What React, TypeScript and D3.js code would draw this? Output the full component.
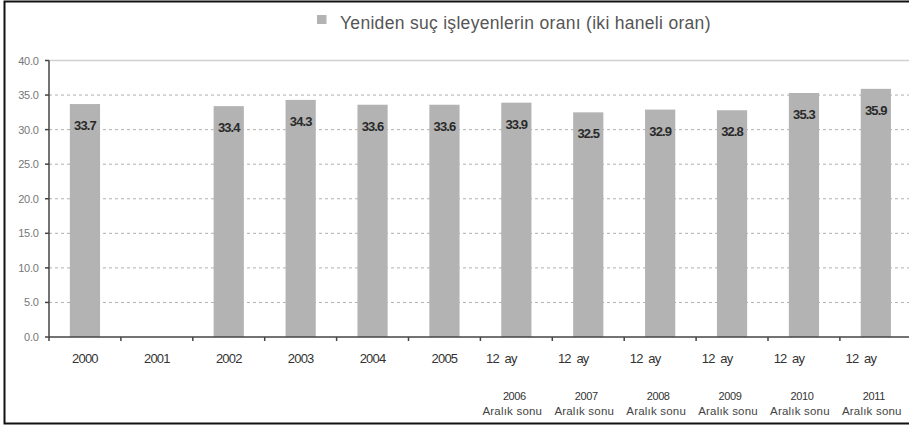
import React from "react";
import * as d3 from "d3";

const categories = ["2000", "2001", "2002", "2003", "2004", "2005", "2006", "2007", "2008", "2009", "2010", "2011"];
const values: (number | null)[] = [33.7, null, 33.4, 34.3, 33.6, 33.6, 33.9, 32.5, 32.9, 32.8, 35.3, 35.9];
const firstRowLabels = ["2000", "2001", "2002", "2003", "2004", "2005", "12  ay", "12  ay", "12  ay", "12  ay", "12  ay", "12  ay"];
const secondRowYears = ["", "", "", "", "", "", "2006", "2007", "2008", "2009", "2010", "2011"];
const secondRowNote = ["", "", "", "", "", "", "Aralık sonu", "Aralık sonu", "Aralık sonu", "Aralık sonu", "Aralık sonu", "Aralık sonu"];
const yTicks = [0, 5, 10, 15, 20, 25, 30, 35, 40];
const legendLabel = "Yeniden suç işleyenlerin oranı (iki haneli oran)";

const W = 909;
const H = 427;
const font = "'Liberation Sans', Arial, sans-serif";

export default function App() {
  const x0 = 49;
  const x = d3
    .scaleBand<string>()
    .domain(categories)
    .range([x0, x0 + 12 * 71.9])
    .paddingInner(0.58)
    .paddingOuter(0.29);
  const y = d3.scaleLinear().domain([0, 40]).range([337, 60.5]);
  const step = x.step();
  const boundaries = d3.range(categories.length + 1).map((i) => x0 + i * step);

  return (
    <div style={{ position: "absolute", left: 0, top: 0 }}>
      <svg width={W} height={H} style={{ display: "block", background: "#fff" }}>
        {/* frame */}
        <path d={`M${W},1.5 H4.5 V423.5 H${W}`} fill="none" stroke="#111" strokeWidth={2} />

        {/* legend */}
        <rect x={317} y={15} width={9.5} height={9} fill="#b3b3b3" />
        <text x={340} y={29} fontFamily={font} fontSize={17.5} letterSpacing={0.3} fill="#555">
          {legendLabel}
        </text>

        {/* gridlines */}
        {yTicks.filter((t) => t > 0 && t < 40).map((t) => (
          <line key={t} x1={x0} x2={W} y1={y(t)} y2={y(t)} stroke="#b0b0b0" strokeWidth={1} strokeDasharray="3,3" />
        ))}
        <line x1={x0} x2={W} y1={y(40)} y2={y(40)} stroke="#d0d0d0" strokeWidth={1.5} />

        {/* bars */}
        {categories.map((c, i) =>
          values[i] == null ? null : (
            <rect
              key={c}
              x={x(c)!}
              y={y(values[i] as number)}
              width={x.bandwidth()}
              height={y(0) - y(values[i] as number)}
              fill="#b3b3b3"
            />
          )
        )}

        {/* value labels */}
        {categories.map((c, i) =>
          values[i] == null ? null : (
            <text
              key={c}
              x={x(c)! + x.bandwidth() / 2}
              y={y(values[i] as number) + 26}
              textAnchor="middle"
              fontFamily={font}
              fontSize={13}
              fontWeight="bold"
              letterSpacing={-0.9}
              fill="#2a2a2a"
            >
              {(values[i] as number).toFixed(1)}
            </text>
          )
        )}

        {/* y axis */}
        <line x1={x0} x2={x0} y1={y(40)} y2={y(0)} stroke="#444" strokeWidth={1.5} />
        {yTicks.map((t) => (
          <g key={t}>
            <line x1={x0 - 4} x2={x0} y1={y(t)} y2={y(t)} stroke="#444" strokeWidth={1.5} />
            <text x={38.5} y={y(t) + 4} textAnchor="end" fontFamily={font} fontSize={11} letterSpacing={-0.3} fill="#777">
              {t.toFixed(1)}
            </text>
          </g>
        ))}

        {/* x axis */}
        <line x1={x0} x2={W} y1={y(0)} y2={y(0)} stroke="#444" strokeWidth={1.5} />
        {boundaries.map((b, i) => (
          <line key={i} x1={b} x2={b} y1={y(0)} y2={y(0) + 4} stroke="#444" strokeWidth={1.5} />
        ))}
        {categories.map((c, i) => {
          const cx = x(c)! + x.bandwidth() / 2;
          const isAy = firstRowLabels[i].startsWith("12");
          return (
            <g key={c}>
              <text
                x={isAy ? cx - 15 : cx}
                y={363}
                textAnchor="middle"
                fontFamily={font}
                fontSize={13}
                letterSpacing={-0.8}
                fill="#333"
                style={{ whiteSpace: "pre" }}
              >
                {firstRowLabels[i]}
              </text>
              {secondRowYears[i] && (
                <text x={cx - 2} y={400} textAnchor="middle" fontFamily={font} fontSize={11} letterSpacing={-0.4} fill="#333">
                  {secondRowYears[i]}
                </text>
              )}
              {secondRowNote[i] && (
                <text x={cx - 4} y={414.5} textAnchor="middle" fontFamily={font} fontSize={11.5} letterSpacing={0.2} fill="#444">
                  {secondRowNote[i]}
                </text>
              )}
            </g>
          );
        })}
      </svg>
    </div>
  );
}
